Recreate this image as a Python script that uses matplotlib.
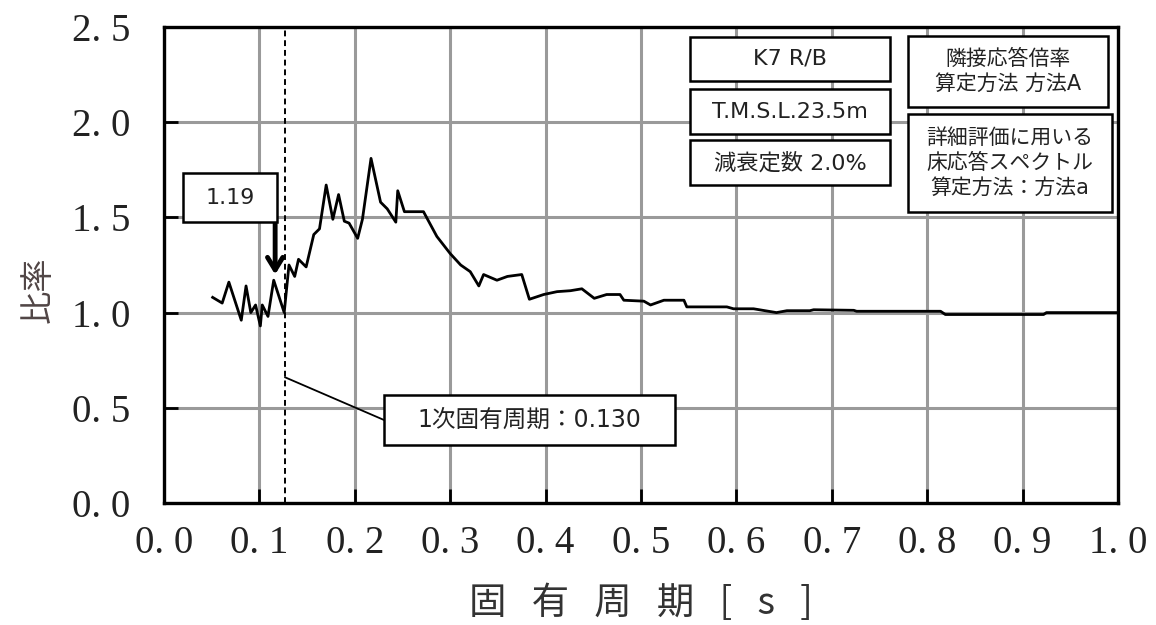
import matplotlib
matplotlib.use('Agg')
import matplotlib.pyplot as plt
from matplotlib.patches import Rectangle

####################################
# Data
####################################

period = [0.051, 0.061, 0.068, 0.081, 0.086, 0.091, 0.096, 0.101, 0.103, 0.109,
          0.115, 0.126, 0.131, 0.137, 0.141, 0.149, 0.157, 0.163, 0.170, 0.177,
          0.183, 0.189, 0.194, 0.203, 0.208, 0.217, 0.227, 0.234, 0.243, 0.245,
          0.252, 0.272, 0.286, 0.300, 0.311, 0.321, 0.330, 0.335, 0.349, 0.360,
          0.375, 0.383, 0.398, 0.412, 0.426, 0.438, 0.451, 0.464, 0.478, 0.482,
          0.503, 0.510, 0.524, 0.545, 0.548, 0.590, 0.597, 0.618, 0.642, 0.653,
          0.677, 0.681, 0.723, 0.726, 0.814, 0.819, 0.922, 0.925, 1.000]
ratio = [1.08, 1.05, 1.16, 0.96, 1.14, 1.00, 1.04, 0.93, 1.04, 0.98,
         1.17, 1.00, 1.25, 1.19, 1.28, 1.24, 1.41, 1.44, 1.67, 1.49,
         1.62, 1.48, 1.47, 1.39, 1.49, 1.81, 1.58, 1.545, 1.475, 1.64,
         1.53, 1.53, 1.40, 1.31, 1.25, 1.215, 1.14, 1.20, 1.17, 1.19,
         1.20, 1.07, 1.095, 1.11, 1.115, 1.125, 1.075, 1.095, 1.095, 1.065,
         1.06, 1.04, 1.065, 1.065, 1.03, 1.03, 1.02, 1.02, 1.00, 1.01,
         1.01, 1.015, 1.012, 1.007, 1.007, 0.99, 0.99, 1.0, 1.0]

x_ticks = [0.0, 0.1, 0.2, 0.3, 0.4, 0.5, 0.6, 0.7, 0.8, 0.9, 1.0]
x_tick_labels = ['0. 0', '0. 1', '0. 2', '0. 3', '0. 4', '0. 5',
                 '0. 6', '0. 7', '0. 8', '0. 9', '1. 0']
y_ticks = [0.0, 0.5, 1.0, 1.5, 2.0, 2.5]
y_tick_labels = ['0. 0', '0. 5', '1. 0', '1. 5', '2. 0', '2. 5']

first_period = 0.130
peak_period = 0.1165
peak_label = '1.19'

####################################
# Styles
####################################

JP = ['Noto Sans CJK JP', 'DejaVu Sans']
BOX_FONT = ['DejaVu Sans', 'Noto Sans CJK JP']  # wide latin, cjk fallback
SERIF = 'Liberation Serif'
W, H = 1156, 625

fig = plt.figure(figsize=(W / 100, H / 100), dpi=100)
ax = fig.add_axes([164 / W, 1 - 503 / H, (1118 - 164) / W, (503 - 27) / H])

ax.plot(period, ratio, color='black', lw=2.0, zorder=3)
ax.axvline(first_period - 0.003, color='black', lw=1.4, ls=(0, (3, 2)), zorder=3)

ax.set_xlim(0, 1.0)
ax.set_ylim(0, 2.5)
ax.set_xticks(x_ticks)
ax.set_xticklabels(x_tick_labels, family=SERIF, fontsize=28, color='#222222')
ax.set_yticks(y_ticks)
ax.set_yticklabels(y_tick_labels, family=SERIF, fontsize=28, color='#222222')
ax.tick_params(direction='in', length=10, width=2)
ax.tick_params(axis='x', pad=16)
ax.tick_params(axis='y', pad=24)
ax.grid(True, color='#9a9a9a', lw=2.2, zorder=1)
ax.set_axisbelow(True)
for s in ax.spines.values():
    s.set_linewidth(2.4)

fig.text(641 / W, 1 - 604 / H, '固   有   周   期   [   s   ]', ha='center', va='center',
         fontsize=27, family=JP, color='#333333')
fig.text(38 / W, 1 - 290 / H, '比率', ha='center', va='center', rotation=90,
         fontsize=24, family=JP, color='#504545')

# arrow to the peak
ax.annotate('', xy=(peak_period, 1.20), xytext=(peak_period, 1.476),
            arrowprops=dict(arrowstyle='->, head_length=0.9, head_width=0.55',
                            lw=3.5, color='black', shrinkA=0, shrinkB=0),
            zorder=6)
# leader line to the period label
ax.plot([first_period - 0.003, 0.2306], [0.66, 0.436], color='black', lw=1.3,
        clip_on=False, zorder=4)


def box(x0, y0, x1, y1, text, size=16):
    fig.add_artist(Rectangle((x0 / W, 1 - y1 / H), (x1 - x0) / W, (y1 - y0) / H,
                             transform=fig.transFigure, fc='white', ec='black',
                             lw=1.8, zorder=5))
    fig.text((x0 + x1) / 2 / W, 1 - (y0 + y1) / 2 / H, text, ha='center',
             va='center', fontsize=size, family=BOX_FONT, color='#222222',
             linespacing=1.3, zorder=6)


box(690, 37, 890, 81, 'K7 R/B')
box(690, 89, 890, 134, 'T.M.S.L.23.5m')
box(690, 140, 890, 185, '減衰定数 2.0%')
box(908, 36, 1108, 107, '隣接応答倍率\n算定方法 方法A', size=15)
box(908, 114, 1112, 212, '詳細評価に用いる\n床応答スペクトル\n算定方法：方法a', size=15)
box(183, 173, 277, 222, peak_label)
box(384, 395, 675, 445, '1次固有周期：0.130', size=17)

fig.savefig('out.png', dpi=100)
